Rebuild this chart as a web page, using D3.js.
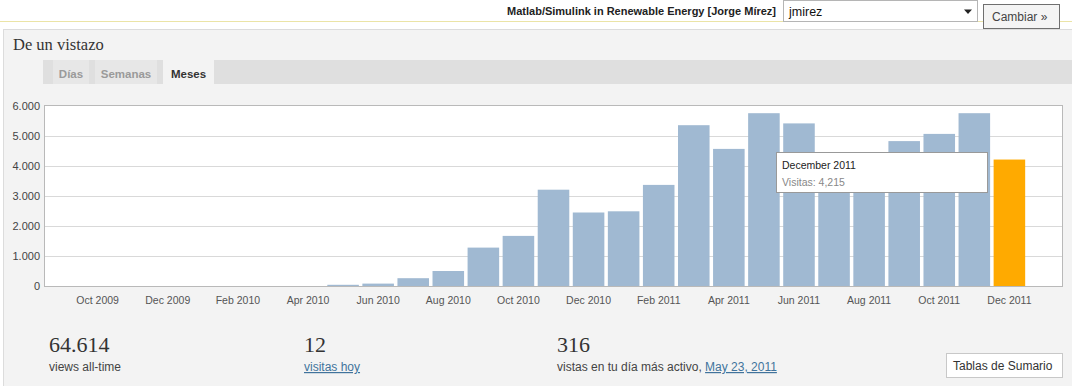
<!DOCTYPE html>
<html>
<head>
<meta charset="utf-8">
<script src="https://cdn.jsdelivr.net/npm/d3@7"></script>
<style>
  body { margin: 0; background: #fff; overflow: hidden; }
  text { font-family: Arial, "Liberation Sans", sans-serif; }
  .serif { font-family: "Liberation Serif", "DejaVu Serif", serif; }
  .link { fill: #41739c; text-decoration: underline; }
</style>
</head>
<body>
<div id="chart"></div>
<script>
// monthly visits, Sep 2009 .. Dec 2011
const months = [
  'Sep 2009', 'Oct 2009', 'Nov 2009', 'Dec 2009',
  'Jan 2010', 'Feb 2010', 'Mar 2010', 'Apr 2010', 'May 2010', 'Jun 2010',
  'Jul 2010', 'Aug 2010', 'Sep 2010', 'Oct 2010', 'Nov 2010', 'Dec 2010',
  'Jan 2011', 'Feb 2011', 'Mar 2011', 'Apr 2011', 'May 2011', 'Jun 2011',
  'Jul 2011', 'Aug 2011', 'Sep 2011', 'Oct 2011', 'Nov 2011', 'Dec 2011'
];
const visits = [
  0, 0, 0, 0,
  0, 0, 0, 0, 40, 80,
  260, 500, 1280, 1670, 3210, 2450,
  2490, 3370, 5360, 4570, 5760, 5420,
  4100, 4200, 4830, 5070, 5760, 4215
];
const yTicks = [0, 1000, 2000, 3000, 4000, 5000, 6000];
const tabs = ['Días', 'Semanas', 'Meses'];
const stats = [
  { value: '64.614', label: 'views all-time' },
  { value: '12', label: 'visitas hoy' },
  { value: '316', label: 'vistas en tu día más activo, ', link: 'May 23, 2011' }
];

const W = 1072, H = 386;
const plot = { left: 45, right: 1062, top: 106, bottom: 286 };
const selected = months.length - 1;

const esLocale = d3.formatLocale({ decimal: ',', thousands: '.', grouping: [3], currency: ['', ''] });
const fmtAxis = esLocale.format(',');
const parseMonth = d3.timeParse('%b %Y');
const longMonth = d3.timeFormat('%B %Y');

const svg = d3.select('#chart').append('svg')
  .attr('width', W)
  .attr('height', H);

// top bar
svg.append('rect').attr('width', W).attr('height', 29).attr('fill', '#fff');
svg.append('line')
  .attr('x1', 0).attr('x2', W).attr('y1', 21.5).attr('y2', 21.5)
  .attr('stroke', '#ebe4a6');
svg.append('text')
  .attr('x', 776).attr('y', 15)
  .attr('text-anchor', 'end')
  .attr('font-size', 11).attr('font-weight', 'bold').attr('fill', '#222')
  .text('Matlab/Simulink in Renewable Energy [Jorge Mírez]');
svg.append('rect')
  .attr('x', 783.5).attr('y', 0.5).attr('width', 194).attr('height', 21)
  .attr('fill', '#fff').attr('stroke', '#b5b5b5');
svg.append('text')
  .attr('x', 789).attr('y', 16)
  .attr('font-size', 12.5).attr('fill', '#111')
  .text('jmirez');
svg.append('path')
  .attr('d', 'M964,9.5h8l-4,4.5z')
  .attr('fill', '#222');
svg.append('rect')
  .attr('x', 983.5).attr('y', 4.5).attr('width', 76).attr('height', 24)
  .attr('fill', '#f4f4f4').attr('stroke', '#6f6f6f');
svg.append('text')
  .attr('x', 992).attr('y', 21)
  .attr('font-size', 12).attr('fill', '#444')
  .text('Cambiar »');

// panel
svg.append('rect')
  .attr('x', 3.5).attr('y', 29.5).attr('width', W).attr('height', H)
  .attr('fill', '#f3f3f3').attr('stroke', '#dcdcdc');
svg.append('text')
  .attr('class', 'serif')
  .attr('x', 13).attr('y', 50)
  .attr('font-size', 16.5).attr('fill', '#333')
  .text('De un vistazo');

// tabs
svg.append('rect')
  .attr('x', 43).attr('y', 60).attr('width', W - 43).attr('height', 24)
  .attr('fill', '#dfdfdf');
const tabX = [53, 95, 163];
const tabW = [36, 62, 51];
const tabG = svg.selectAll('.tab')
  .data(tabs)
  .enter()
  .append('g')
  .attr('class', 'tab');
tabG.append('rect')
  .attr('x', function(d, i) { return tabX[i]; })
  .attr('y', 60)
  .attr('width', function(d, i) { return tabW[i]; })
  .attr('height', function(d, i) { return i === 2 ? 28 : 24; })
  .attr('fill', function(d, i) { return i === 2 ? '#f3f3f3' : '#e7e7e7'; });
tabG.append('text')
  .attr('x', function(d, i) { return tabX[i] + tabW[i] / 2; })
  .attr('y', 78)
  .attr('text-anchor', 'middle')
  .attr('font-size', 11.5).attr('font-weight', 'bold')
  .attr('fill', function(d, i) { return i === 2 ? '#333' : '#9a9a9a'; })
  .text(function(d) { return d; });

// scales
const step = (plot.right - plot.left) / (months.length + 1);
const x = d3.scaleBand()
  .domain(months)
  .range([plot.left, plot.right - step])
  .paddingInner(0.1)
  .paddingOuter(0.05);
const y = d3.scaleLinear()
  .domain([0, 6000])
  .range([plot.bottom, plot.top]);

// plot background and grid
svg.append('rect')
  .attr('x', plot.left).attr('y', plot.top)
  .attr('width', plot.right - plot.left).attr('height', plot.bottom - plot.top)
  .attr('fill', '#fff');
svg.append('g')
  .selectAll('line')
  .data(yTicks.slice(1, -1))
  .enter()
  .append('line')
  .attr('x1', plot.left).attr('x2', plot.right)
  .attr('y1', function(d) { return Math.round(y(d)) + 0.5; })
  .attr('y2', function(d) { return Math.round(y(d)) + 0.5; })
  .attr('stroke', '#d9d9d9');

// bars
svg.append('g')
  .selectAll('rect')
  .data(visits)
  .enter()
  .append('rect')
  .attr('x', function(d, i) { return x(months[i]); })
  .attr('y', function(d) { return y(d); })
  .attr('width', x.bandwidth())
  .attr('height', function(d) { return y(0) - y(d); })
  .attr('fill', function(d, i) { return i === selected ? '#ffaa00' : '#a0b9d2'; });

// frame
svg.append('rect')
  .attr('x', plot.left - 0.5).attr('y', plot.top - 0.5)
  .attr('width', plot.right - plot.left + 1).attr('height', plot.bottom - plot.top + 1)
  .attr('fill', 'none').attr('stroke', '#b9b9b9');

// axes
const yAxis = svg.append('g')
  .attr('transform', 'translate(' + plot.left + ',0)')
  .call(d3.axisLeft(y).tickValues(yTicks).tickFormat(fmtAxis).tickSize(0).tickPadding(5));
yAxis.select('.domain').remove();
yAxis.selectAll('text')
  .attr('font-size', 11).attr('font-family', 'Arial, "Liberation Sans", sans-serif')
  .attr('fill', '#444');

const xAxis = svg.append('g')
  .attr('transform', 'translate(0,' + plot.bottom + ')')
  .call(d3.axisBottom(x)
    .tickValues(months.filter(function(d, i) { return i % 2 === 1; }))
    .tickSize(0).tickPadding(11));
xAxis.select('.domain').remove();
xAxis.selectAll('text')
  .attr('font-size', 10.5).attr('font-family', 'Arial, "Liberation Sans", sans-serif')
  .attr('fill', '#555');

// tooltip for the highlighted month
const tip = svg.append('g')
  .attr('transform', 'translate(776.5,152.5)');
tip.append('rect')
  .attr('width', 211).attr('height', 40)
  .attr('fill', '#fff').attr('stroke', '#999');
tip.append('text')
  .attr('x', 5.5).attr('y', 16.5)
  .attr('font-size', 10.5).attr('fill', '#222')
  .text(longMonth(parseMonth(months[selected])));
tip.append('text')
  .attr('x', 5.5).attr('y', 33)
  .attr('font-size', 10.5).attr('fill', '#888')
  .text('Visitas: ' + d3.format(',')(visits[selected]));

// summary figures
const statX = [49, 304, 557];
const statG = svg.selectAll('.stat')
  .data(stats)
  .enter()
  .append('g')
  .attr('class', 'stat')
  .attr('transform', function(d, i) { return 'translate(' + statX[i] + ',0)'; });
statG.append('text')
  .attr('class', 'serif')
  .attr('y', 352)
  .attr('font-size', 22).attr('fill', '#333')
  .text(function(d) { return d.value; });
const lbl = statG.append('text')
  .attr('y', 371)
  .attr('font-size', 12).attr('fill', '#444');
lbl.append('tspan')
  .attr('class', function(d, i) { return i === 1 ? 'link' : null; })
  .text(function(d) { return d.label; });
lbl.filter(function(d) { return d.link; })
  .append('tspan')
  .attr('class', 'link')
  .text(function(d) { return d.link; });

svg.append('rect')
  .attr('x', 946.5).attr('y', 353.5).attr('width', 116).attr('height', 24)
  .attr('fill', '#fff').attr('stroke', '#c8c8c8');
svg.append('text')
  .attr('x', 953).attr('y', 370)
  .attr('font-size', 12).attr('fill', '#333')
  .text('Tablas de Sumario');
</script>
</body>
</html>
